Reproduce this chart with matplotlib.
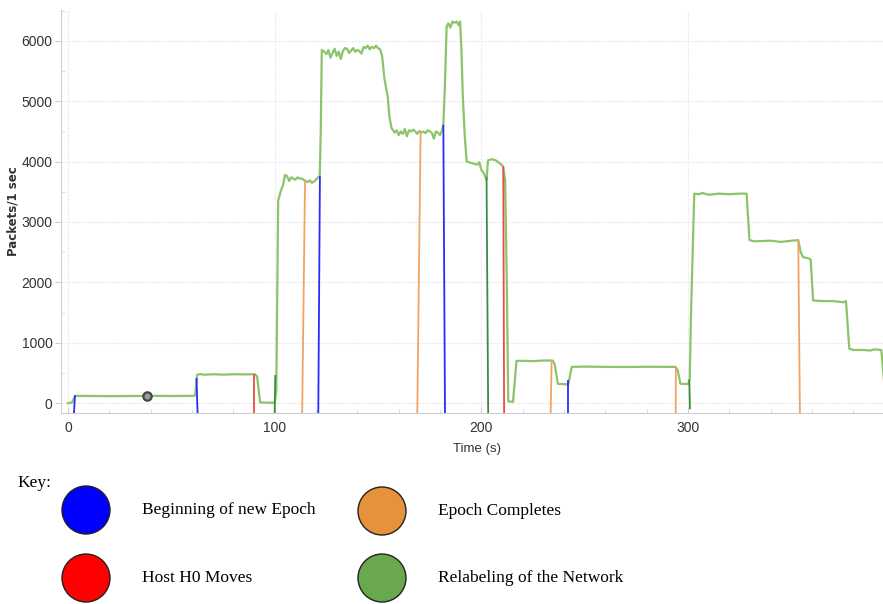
import matplotlib.pyplot as plt
from matplotlib.patches import Ellipse

# packet rate over time (s, packets/1 sec)
time_s = [0, 2, 3.5, 10, 20, 30, 40, 50, 60, 61.5, 62.5, 64, 66, 70, 75, 80, 85, 90.5,
          91.5, 93, 100, 100.8, 101.7, 103, 104, 105, 106, 107, 108, 109, 110, 111, 112,
          113, 114, 115, 116, 117, 118, 119, 120, 121, 121.8, 122.3, 122.8, 124, 125, 126,
          127, 128, 129, 130, 131, 132, 133, 134, 135, 136, 137, 138, 139, 140, 141, 142,
          143, 144, 145, 146, 147, 148, 149, 150, 151, 152, 153, 154, 154.7, 155.5, 156.5,
          158, 159, 160, 161, 162, 163, 164, 165, 166, 167, 168, 169, 170, 171, 172, 173,
          174, 175, 176, 177, 178, 179, 180, 181, 181.6, 182.3, 183.2, 184, 185, 186, 187,
          188, 189, 189.7, 190.3, 191, 192, 192.9, 194, 196, 198, 199, 200, 201, 202, 202.5,
          203.2, 205, 207, 209, 210.5, 211.5, 212.3, 213, 215.3, 216, 217, 220, 225, 230,
          234.5, 235.5, 237, 242, 242.7, 243.7, 250, 260, 270, 280, 290, 294, 295, 296.3,
          300, 300.8, 301.5, 303, 305, 307, 310, 315, 320, 325, 328.3, 329.7, 332, 340, 345,
          350, 353.3, 354.5, 355.5, 358, 359.3, 360.5, 365, 370, 373, 375, 376.4, 378, 380,
          385, 388, 390, 393.5, 395]
packets = [0, 10, 120, 118, 115, 118, 120, 118, 120, 125, 470, 480, 470, 478, 472, 478, 476, 478,
           440, 10, 5, 200, 3350, 3520, 3600, 3780, 3760, 3680, 3740, 3720, 3700, 3740, 3720,
           3720, 3700, 3680, 3660, 3690, 3650, 3670, 3700, 3740, 3760, 4500, 5850, 5820, 5780, 5850,
           5720, 5800, 5870, 5750, 5820, 5700, 5830, 5880, 5870, 5800, 5840, 5880, 5820, 5850, 5830, 5790,
           5900, 5880, 5920, 5860, 5900, 5880, 5920, 5880, 5860, 5750, 5400, 5200, 5080, 4750, 4560,
           4480, 4520, 4440, 4500, 4460, 4540, 4420, 4520, 4500, 4530, 4500, 4460, 4510, 4480, 4500, 4470,
           4520, 4500, 4480, 4380, 4500, 4480, 4440, 4520, 4610, 5200, 6240, 6290, 6220, 6320, 6300,
           6320, 6260, 6320, 5900, 5100, 4400, 4000, 3990, 3970, 3950, 3990, 3860, 3820, 3740, 3700,
           4020, 4040, 4020, 3970, 3920, 3700, 2000, 30, 20, 300, 700, 700, 695, 705,
           705, 640, 320, 310, 420, 600, 605, 600, 598, 602, 600, 600, 540, 320,
           315, 400, 1600, 3470, 3460, 3480, 3450, 3470, 3460, 3470, 3470, 2700, 2680, 2690, 2670,
           2690, 2700, 2500, 2420, 2400, 2380, 1700, 1690, 1690, 1680, 1670, 1690, 900, 880,
           880, 870, 890, 880, 300]

# event markers: kind, time at foot, time at top, packets at top
event_kind = ['epoch', 'epoch', 'move', 'relabel', 'done', 'epoch', 'done', 'epoch',
              'relabel', 'move', 'done', 'epoch', 'done', 'relabel', 'done']
event_t_bottom = [2.9, 62.7, 90.1, 100.0, 113.3, 121.1, 169.0, 182.4,
                  203.3, 211.0, 233.5, 242.0, 294.0, 300.9, 354.1]
event_t_top = [3.4, 62.2, 90.1, 100.3, 114.7, 121.9, 170.6, 181.6,
               202.5, 210.6, 234.0, 242.0, 294.1, 300.6, 353.3]
event_top = [130, 415, 490, 465, 3700, 3760, 4500, 4610,
             3750, 3920, 710, 380, 600, 390, 2700]
event_bottom = [-170] * 13 + [-100, -170]

event_colors = {'epoch': '#2b2bff', 'done': '#f0a464', 'move': '#f04848', 'relabel': '#3c8c3c'}
key_colors = {'epoch': '#0000ff', 'done': '#e5923b', 'move': '#ff0000', 'relabel': '#69a84f'}
key_labels = {'epoch': 'Beginning of new Epoch', 'done': 'Epoch Completes',
              'move': 'Host H0 Moves', 'relabel': 'Relabeling of the Network'}

tick_font = 'Liberation Sans'

fig = plt.figure(figsize=(8.83, 6.04), dpi=100)
ax = fig.add_axes([0.069, 0.316, 0.931, 0.668])

ax.plot(time_s, packets, color='#8cc46a', lw=1.6, zorder=3)
for k, tb, tt, top, bot in zip(event_kind, event_t_bottom, event_t_top, event_top, event_bottom):
    ax.plot([tb, tt], [bot, top], color=event_colors[k], lw=1.3, zorder=4, solid_capstyle='butt')

# small marker on the first plateau
ax.plot([38], [118], marker='o', ms=6, mfc='#9a9a9a', mec='#444444', mew=1.6, zorder=5)

ax.set_xlim(-3.4, 394.3)
ax.set_ylim(-166, 6517)
ax.set_xticks([0, 100, 200, 300])
ax.set_xticks(range(0, 400, 20), minor=True)
ax.set_yticks(range(0, 7000, 1000))
ax.set_yticks(range(0, 6600, 500), minor=True)
ax.grid(True, which='major', color='#ebebeb', lw=0.8, ls=(0, (2, 1)))
ax.set_axisbelow(True)
for s in ['top', 'right']:
    ax.spines[s].set_visible(False)
for s in ['left', 'bottom']:
    ax.spines[s].set_color('#cfcfcf')
ax.tick_params(which='major', axis='y', direction='out', length=4, color='#cfcfcf',
               labelsize=10, labelcolor='#333333', pad=2)
ax.tick_params(which='major', axis='x', direction='in', length=4, color='#cfcfcf',
               labelsize=10, labelcolor='#333333', pad=6)
ax.tick_params(which='minor', direction='in', length=3, color='#d8d8d8')
for lab in ax.get_xticklabels() + ax.get_yticklabels():
    lab.set_family(tick_font)
ax.set_xlabel('Time (s)', fontsize=9.5, color='#333333', family=tick_font)
ax.xaxis.set_label_coords(0.506, -0.075)
ax.set_ylabel('Packets/1 sec', fontsize=8.5, color='#333333', fontweight='bold')
ax.yaxis.set_label_coords(-0.05, 0.5)

# key below the chart
serif = 'Liberation Serif'
fig.text(17 / 883, 1 - 483 / 604, 'Key:', family=serif, fontsize=12.5, va='center')
key_layout = [('epoch', 86, 510), ('move', 86, 578), ('done', 382, 511), ('relabel', 382, 578)]
for k, cx, cy in key_layout:
    fig.patches.append(Ellipse((cx / 883, 1 - cy / 604), 48 / 883, 48 / 604,
                               transform=fig.transFigure, facecolor=key_colors[k],
                               edgecolor='#222222', lw=1.0))
    fig.text((cx + 56) / 883, 1 - cy / 604, key_labels[k], family=serif,
             fontsize=12.5, va='center')

fig.savefig('out.png', dpi=100)
